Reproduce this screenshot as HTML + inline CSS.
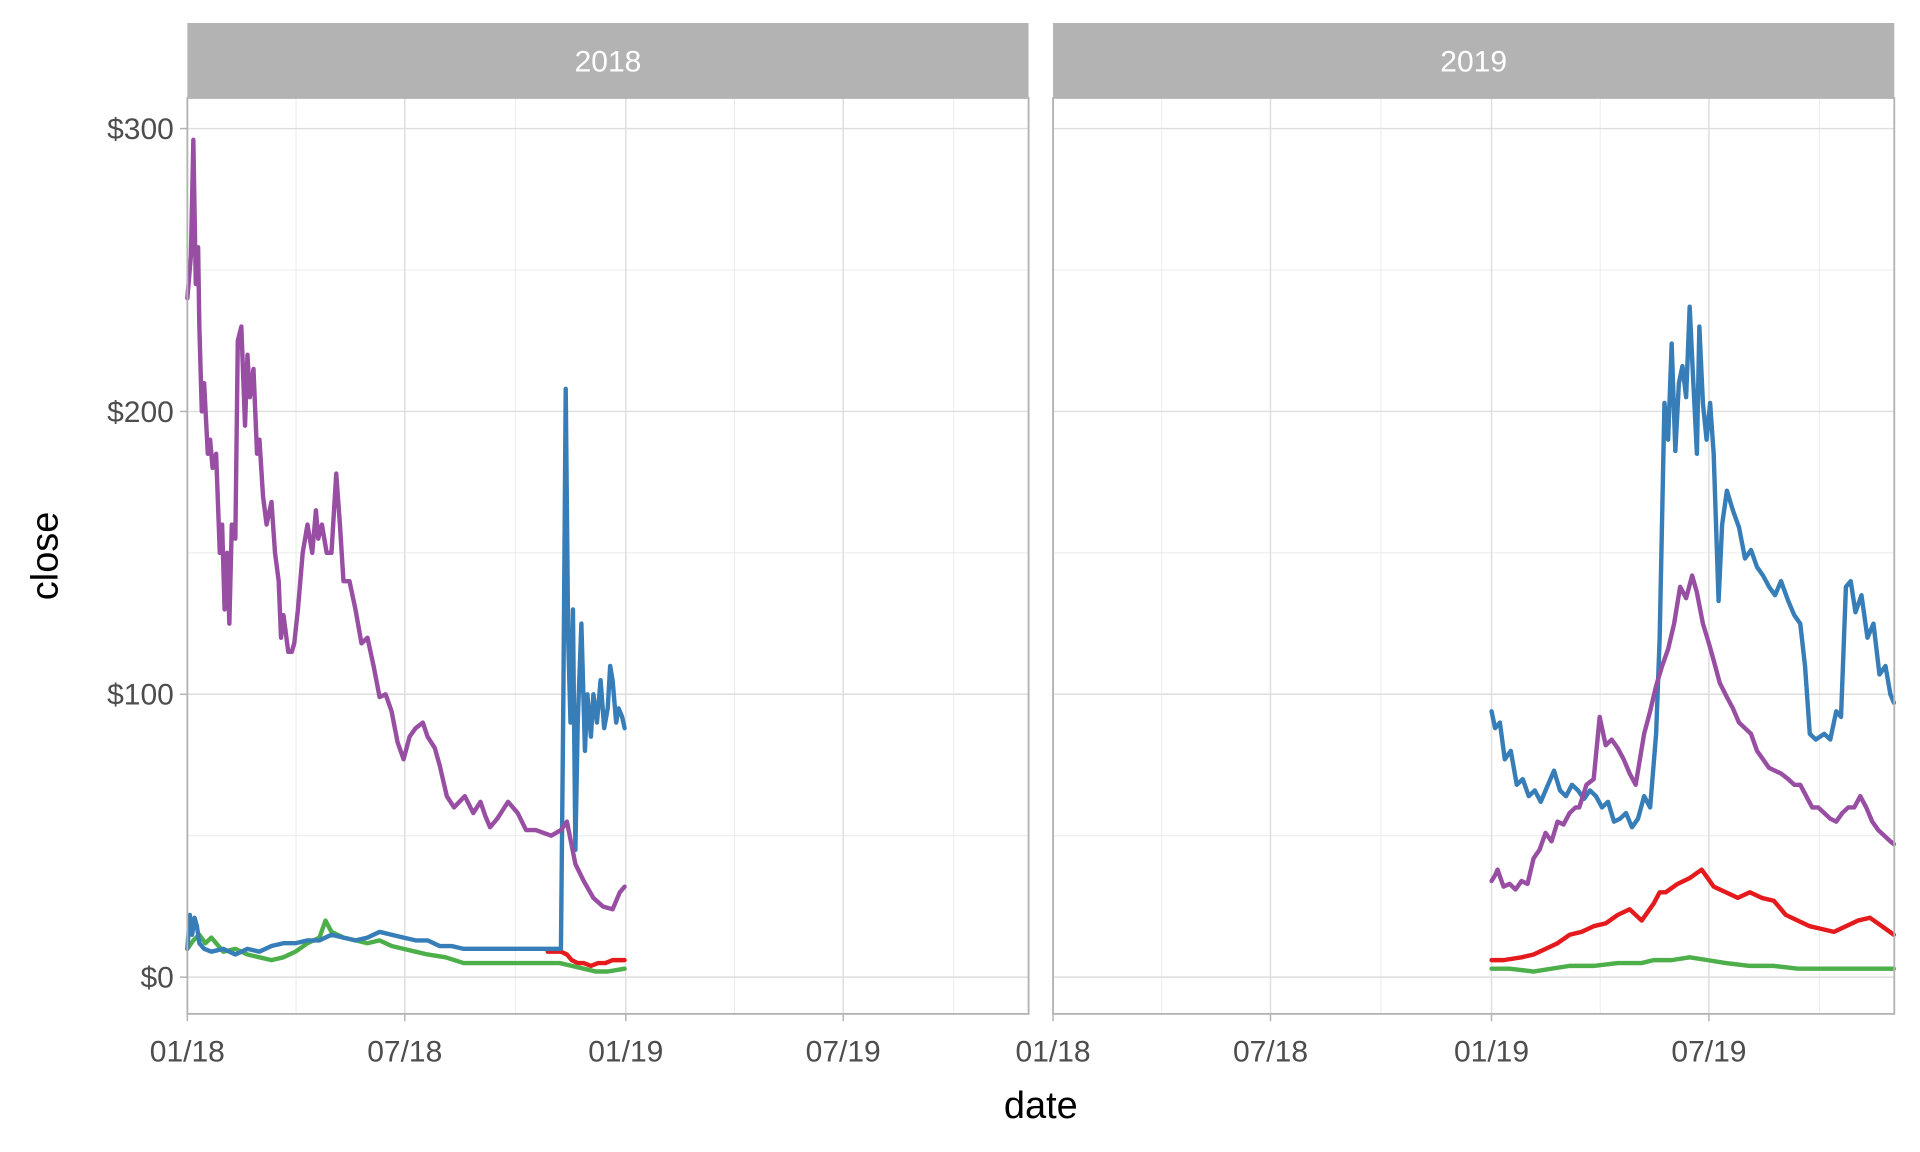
<!DOCTYPE html>
<html><head><meta charset="utf-8"><style>
html,body{margin:0;padding:0;background:#fff;width:1920px;height:1152px;overflow:hidden}
svg{display:block;font-family:"Liberation Sans",Arial,sans-serif}
</style></head><body>
<svg id="chart" width="1920" height="1152" viewBox="0 0 1568 940.8" xmlns="http://www.w3.org/2000/svg"></svg>
<script>
// ---- data (days since 2018-01-01, close in $) ----
const yTicks = [0, 100, 200, 300];
const yTickLabels = ["$0", "$100", "$200", "$300"];
const xTickDays = [0, 181, 365, 546, 730];
const xTickLabels = ["01/18", "07/18", "01/19", "07/19", "01/20"];
const facets = ["2018", "2019"];

const purple18Days = [0,3,5,7,9,10,12,14,17,19,21,24,27,29,31,33,35,37,40,42,45,48,50,52,55,58,60,63,66,70,73,76,78,80,84,87,89,92,96,100,104,107,109,112,116,120,124,127,130,135,140,145,150,155,160,165,170,175,180,185,190,196,200,206,210,216,222,231,238,244,248,252,258,267,275,282,290,303,311,316,323,330,338,346,354,360,364];
const purple18Vals = [240,255,296,245,258,230,200,210,185,190,180,185,150,160,130,150,125,160,155,225,230,195,220,205,215,185,190,170,160,168,150,140,120,128,115,115,118,130,150,160,150,165,155,160,150,150,178,160,140,140,130,118,120,110,99,100,94,83,77,85,88,90,85,81,75,64,60,64,58,62,57,53,56,62,58,52,52,50,52,55,40,34,28,25,24,30,32];
const blue18Days = [0,2,4,6,8,10,14,20,30,40,50,60,70,80,90,100,110,120,130,140,150,160,170,180,190,200,210,220,230,240,250,260,270,280,290,300,308,311,313,315,317,319,321,323,325,328,331,333,336,338,341,344,347,350,352,354,357,359,362,364];
const blue18Vals = [10,22,15,21,18,12,10,9,10,8,10,9,11,12,12,13,13,15,14,13,14,16,15,14,13,13,11,11,10,10,10,10,10,10,10,10,10,10,100,208,120,90,130,45,90,125,80,100,85,100,90,105,88,95,110,105,90,95,92,88];
const green18Days = [0,5,10,15,20,30,40,50,60,70,80,90,100,110,115,120,130,140,150,160,170,180,190,200,215,230,250,270,290,300,310,320,330,340,350,364];
const green18Vals = [10,13,15,12,14,9,10,8,7,6,7,9,12,14,20,16,14,13,12,13,11,10,9,8,7,5,5,5,5,5,5,4,3,2,2,3];
const red18Days = [300,311,316,320,325,330,336,342,348,354,360,364];
const red18Vals = [9,9,8,6,5,5,4,5,5,6,6,6];

const blue19Days = [365,368,372,376,381,386,391,396,401,406,412,417,422,427,432,437,442,447,452,457,462,467,472,477,482,487,492,497,502,505,509,512,515,518,521,524,527,530,533,536,538,541,544,547,550,554,557,561,566,571,576,581,586,591,596,601,606,612,617,622,626,630,635,642,647,652,656,660,664,668,673,678,683,688,693,697,700];
const blue19Vals = [94,88,90,77,80,68,70,64,66,62,68,73,66,64,68,66,63,66,64,60,62,55,56,58,53,56,64,60,86,120,203,190,224,186,210,216,205,237,210,185,230,203,190,203,185,133,160,172,165,159,148,151,145,142,138,135,140,133,128,125,110,86,84,86,84,94,92,138,140,129,135,120,125,107,110,100,97];
const purple19Days = [365,368,370,375,380,385,390,395,400,405,410,415,420,425,430,435,438,444,450,455,460,465,470,475,480,485,492,497,502,507,512,517,522,527,532,536,541,546,550,555,561,566,571,576,581,586,591,596,601,606,612,617,622,627,632,637,642,647,652,657,662,667,672,677,682,687,692,697,700];
const purple19Vals = [34,36,38,32,33,31,34,33,42,45,51,48,55,54,58,60,60,68,70,92,82,84,81,77,72,68,86,94,103,110,116,125,138,134,142,136,125,118,112,104,99,95,90,88,86,80,77,74,73,72,70,68,68,64,60,60,58,56,55,58,60,60,64,60,55,52,50,48,47];
const red19Days = [365,375,390,400,410,420,430,440,450,460,470,480,490,500,505,510,520,530,540,545,550,560,570,580,590,600,610,620,630,640,650,660,670,680,690,700];
const red19Vals = [6,6,7,8,10,12,15,16,18,19,22,24,20,26,30,30,33,35,38,35,32,30,28,30,28,27,22,20,18,17,16,18,20,21,18,15];
const green19Days = [365,380,400,415,430,450,470,490,500,515,530,545,560,580,600,620,650,675,700];
const green19Vals = [3,3,2,3,4,4,5,5,6,6,7,6,5,4,4,3,3,3,3];

const series = [
  {name:"red", color:"#e41a1c", facet:0, days:red18Days, vals:red18Vals},
  {name:"green", color:"#4daf4a", facet:0, days:green18Days, vals:green18Vals},
  {name:"blue", color:"#377eb8", facet:0, days:blue18Days, vals:blue18Vals},
  {name:"purple", color:"#984ea3", facet:0, days:purple18Days, vals:purple18Vals},
  {name:"red", color:"#e41a1c", facet:1, days:red19Days, vals:red19Vals},
  {name:"green", color:"#4daf4a", facet:1, days:green19Days, vals:green19Vals},
  {name:"blue", color:"#377eb8", facet:1, days:blue19Days, vals:blue19Vals},
  {name:"purple", color:"#984ea3", facet:1, days:purple19Days, vals:purple19Vals}
];

const NS = "http://www.w3.org/2000/svg";
const svg = document.getElementById("chart");
const panelX = [153, 860], panelW = 687, panelTop = 80, panelBot = 828;
function yScale(v){ return 798 - v * 2.31; }
function xScale(d, f){ return panelX[f] + d * 0.981; }
function mk(tag, attrs, parent){
  const e = document.createElementNS(NS, tag);
  for (const k in attrs) e.setAttribute(k, attrs[k]);
  (parent || svg).appendChild(e);
  return e;
}

facets.forEach((lab, f) => {
  const g = mk("g", {});
  
  
  const x0 = panelX[f];
  for (let v = 50; v <= 350; v += 100) {
    const y = yScale(v);
    if (y < panelTop) continue;
    const l = mk("line", {x1:x0, x2:x0+panelW, y1:y, y2:y, stroke:"#ebebeb", "stroke-width":0.8}, g);
    
    
  }
  for (let i = 0; i < xTickDays.length - 1; i++) {
    const x = xScale((xTickDays[i] + xTickDays[i+1]) / 2, f);
    const l = mk("line", {x1:x, x2:x, y1:panelTop, y2:panelBot, stroke:"#ebebeb", "stroke-width":0.8}, g);
    
    
  }
  yTicks.forEach(v => {
    const y = yScale(v);
    const l = mk("line", {x1:x0, x2:x0+panelW, y1:y, y2:y, stroke:"#dedede", "stroke-width":1.2}, g);
    
    
  });
  xTickDays.forEach(d => {
    const x = xScale(d, f);
    if (x > x0 + panelW + 0.5) return;
    const l = mk("line", {x1:x, x2:x, y1:panelTop, y2:panelBot, stroke:"#dedede", "stroke-width":1.2}, g);
    
    
  });
  const s = mk("rect", {x:x0, y:18.8, width:panelW, height:61.2, fill:"#b3b3b3"}, g);
  
  
  const st = mk("text", {x:x0+panelW/2, y:58.5, "text-anchor":"middle", fill:"#ffffff", "font-size":24.5}, g);
  st.textContent = lab;
  
  
  xTickDays.forEach((d, i) => {
    const x = xScale(d, f);
    if (x > x0 + panelW + 0.5) return;
    const t = mk("line", {x1:x, x2:x, y1:panelBot, y2:panelBot+6, stroke:"#b3b3b3", "stroke-width":1.2}, g);
    
    
    const tx = mk("text", {x:x, y:867, "text-anchor":"middle", fill:"#4d4d4d", "font-size":24.5}, g);
    tx.textContent = xTickLabels[i];
    
    
  });
});

yTicks.forEach((v, i) => {
  const y = yScale(v);
  const t = mk("line", {x1:147, x2:153, y1:y, y2:y, stroke:"#b3b3b3", "stroke-width":1.2});
  
  
  const tx = mk("text", {x:142, y:y+8.5, "text-anchor":"end", fill:"#4d4d4d", "font-size":24.5});
  tx.textContent = yTickLabels[i];
  
  
});

series.forEach(s => {
  const n = Math.min(s.days.length, s.vals.length);
  let d = "";
  for (let i = 0; i < n; i++) d += (i ? "L" : "M") + xScale(s.days[i], s.facet).toFixed(1) + "," + yScale(s.vals[i]).toFixed(1);
  const p = mk("path", {d:d, fill:"none", stroke:s.color, "stroke-width":3.6, "stroke-linejoin":"round", "stroke-linecap":"round"});
  
  
});

panelX.forEach((x0, f) => {
  const b = mk("rect", {x:x0, y:panelTop, width:panelW, height:panelBot-panelTop, fill:"none", stroke:"#b3b3b3", "stroke-width":1.5});
  
  
});

const xt = mk("text", {x:850, y:913, "text-anchor":"middle", fill:"#000", "font-size":31});
xt.textContent = "date";


const yt = mk("text", {x:0, y:0, "text-anchor":"middle", fill:"#000", "font-size":31, transform:"translate(47,454) rotate(-90)"});
yt.textContent = "close";


</script>
</body></html>
